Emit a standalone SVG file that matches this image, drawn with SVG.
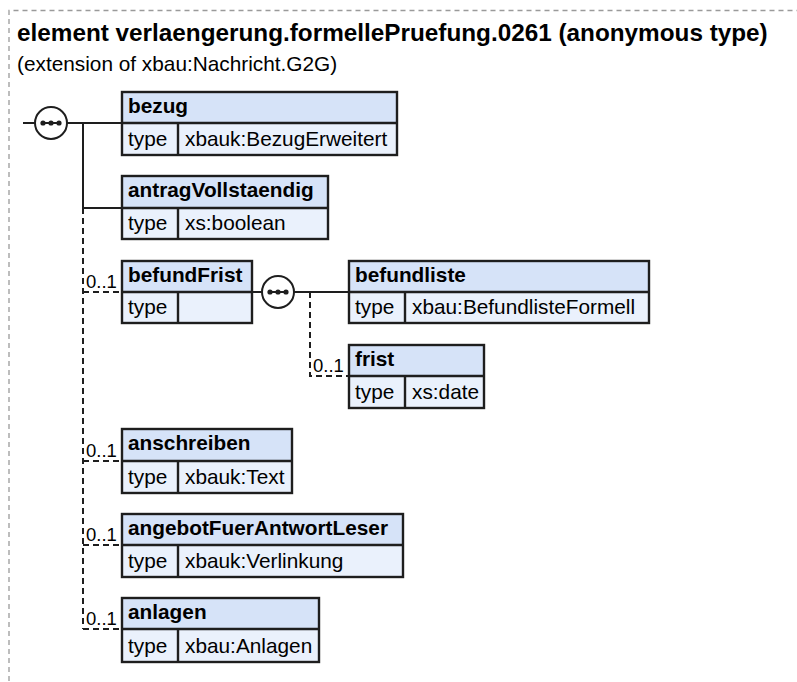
<svg xmlns="http://www.w3.org/2000/svg" width="797" height="682" viewBox="0 0 797 682">
<style>
.bg{fill:#ffffff}
.frame{fill:none;stroke:#9a9a9a;stroke-width:1.3;stroke-dasharray:5,4}
.title{font-family:"Liberation Sans",Arial,sans-serif;font-size:24.3px;font-weight:bold;fill:#000}
.sub{font-family:"Liberation Sans",Arial,sans-serif;font-size:20.8px;fill:#000}
.hd{fill:#d6e3f8;stroke:none}
.bd{fill:#eaf1fc;stroke:none}
.box{fill:none;stroke:#1e1e1e;stroke-width:2.4}
.ln{fill:none;stroke:#1e1e1e;stroke-width:2}
.name{font-family:"Liberation Sans",Arial,sans-serif;font-size:20.8px;font-weight:bold;fill:#000}
.txt{font-family:"Liberation Sans",Arial,sans-serif;font-size:20.8px;fill:#000}
.card{font-family:"Liberation Sans",Arial,sans-serif;font-size:18.5px;fill:#000}
.con{fill:none;stroke:#1e1e1e;stroke-width:2}
.dash{fill:none;stroke:#1e1e1e;stroke-width:2;stroke-dasharray:6,4}
.seq{fill:#ffffff;stroke:#1e1e1e;stroke-width:2}
.dot{fill:#1e1e1e}
</style>
<rect class="bg" x="0" y="0" width="797" height="682"/>
<path class="frame" d="M9,690 V10.5 H800"/>
<text class="title" x="17" y="41">element verlaengerung.formellePruefung.0261 (anonymous type)</text>
<text class="sub" x="17" y="71">(extension of xbau:Nachricht.G2G)</text>

<g id="connectors">
  <line class="con" x1="23" y1="123" x2="35" y2="123"/>
  <line class="con" x1="67" y1="123" x2="122" y2="123"/>
  <line class="con" x1="83" y1="123" x2="83" y2="208"/>
  <line class="con" x1="83" y1="208" x2="122" y2="208"/>
  <path class="dash" d="M83,208 V629"/>
  <path class="dash" d="M83,292 H122"/>
  <path class="dash" d="M83,461 H122"/>
  <path class="dash" d="M83,545 H122"/>
  <path class="dash" d="M83,629 H122"/>
  <line class="con" x1="252" y1="292" x2="262" y2="292"/>
  <line class="con" x1="294" y1="292" x2="349" y2="292"/>
  <path class="dash" d="M310,292 V376 H349"/>
  <text class="card" x="86" y="288">0..1</text>
  <text class="card" x="313" y="372">0..1</text>
  <text class="card" x="86" y="457">0..1</text>
  <text class="card" x="86" y="541">0..1</text>
  <text class="card" x="86" y="625">0..1</text>
</g>

<g id="seq1">
  <circle class="seq" cx="51" cy="123" r="16"/>
  <line class="ln" x1="43" y1="123" x2="59" y2="123"/>
  <circle class="dot" cx="43" cy="123" r="2.6"/>
  <circle class="dot" cx="51" cy="123" r="2.6"/>
  <circle class="dot" cx="59" cy="123" r="2.6"/>
</g>

<g id="seq2">
  <circle class="seq" cx="278" cy="292" r="16"/>
  <line class="ln" x1="270" y1="292" x2="286" y2="292"/>
  <circle class="dot" cx="270" cy="292" r="2.6"/>
  <circle class="dot" cx="278" cy="292" r="2.6"/>
  <circle class="dot" cx="286" cy="292" r="2.6"/>
</g>

<g id="bezug">
  <rect class="hd" x="122" y="92" width="275" height="31"/>
  <rect class="bd" x="122" y="123" width="275" height="32"/>
  <rect class="box" x="122" y="92" width="275" height="63"/>
  <line class="box" x1="122" y1="123" x2="397" y2="123"/>
  <line class="box" x1="178" y1="123" x2="178" y2="155"/>
  <text class="name" x="128" y="113">bezug</text>
  <text class="txt" x="128" y="146">type</text>
  <text class="txt" x="185" y="146">xbauk:BezugErweitert</text>
</g>

<g id="antragVollstaendig">
  <rect class="hd" x="122" y="176" width="206" height="32"/>
  <rect class="bd" x="122" y="208" width="206" height="31"/>
  <rect class="box" x="122" y="176" width="206" height="63"/>
  <line class="box" x1="122" y1="208" x2="328" y2="208"/>
  <line class="box" x1="178" y1="208" x2="178" y2="239"/>
  <text class="name" x="128" y="197">antragVollstaendig</text>
  <text class="txt" x="128" y="230">type</text>
  <text class="txt" x="185" y="230">xs:boolean</text>
</g>

<g id="befundFrist">
  <rect class="hd" x="122" y="261" width="130" height="31"/>
  <rect class="bd" x="122" y="292" width="130" height="31"/>
  <rect class="box" x="122" y="261" width="130" height="62"/>
  <line class="box" x1="122" y1="292" x2="252" y2="292"/>
  <line class="box" x1="178" y1="292" x2="178" y2="323"/>
  <text class="name" x="128" y="282">befundFrist</text>
  <text class="txt" x="128" y="314">type</text>
</g>

<g id="befundliste">
  <rect class="hd" x="349" y="261" width="300" height="31"/>
  <rect class="bd" x="349" y="292" width="300" height="31"/>
  <rect class="box" x="349" y="261" width="300" height="62"/>
  <line class="box" x1="349" y1="292" x2="649" y2="292"/>
  <line class="box" x1="405" y1="292" x2="405" y2="323"/>
  <text class="name" x="355" y="282">befundliste</text>
  <text class="txt" x="355" y="314">type</text>
  <text class="txt" x="412" y="314">xbau:BefundlisteFormell</text>
</g>

<g id="frist">
  <rect class="hd" x="349" y="345" width="135" height="31"/>
  <rect class="bd" x="349" y="376" width="135" height="32"/>
  <rect class="box" x="349" y="345" width="135" height="63"/>
  <line class="box" x1="349" y1="376" x2="484" y2="376"/>
  <line class="box" x1="405" y1="376" x2="405" y2="408"/>
  <text class="name" x="355" y="366">frist</text>
  <text class="txt" x="355" y="399">type</text>
  <text class="txt" x="412" y="399">xs:date</text>
</g>

<g id="anschreiben">
  <rect class="hd" x="122" y="429" width="170" height="32"/>
  <rect class="bd" x="122" y="461" width="170" height="32"/>
  <rect class="box" x="122" y="429" width="170" height="64"/>
  <line class="box" x1="122" y1="461" x2="292" y2="461"/>
  <line class="box" x1="178" y1="461" x2="178" y2="493"/>
  <text class="name" x="128" y="450">anschreiben</text>
  <text class="txt" x="128" y="484">type</text>
  <text class="txt" x="185" y="484">xbauk:Text</text>
</g>

<g id="angebotFuerAntwortLeser">
  <rect class="hd" x="122" y="514" width="281" height="31"/>
  <rect class="bd" x="122" y="545" width="281" height="32"/>
  <rect class="box" x="122" y="514" width="281" height="63"/>
  <line class="box" x1="122" y1="545" x2="403" y2="545"/>
  <line class="box" x1="178" y1="545" x2="178" y2="577"/>
  <text class="name" x="128" y="535">angebotFuerAntwortLeser</text>
  <text class="txt" x="128" y="568">type</text>
  <text class="txt" x="185" y="568">xbauk:Verlinkung</text>
</g>

<g id="anlagen">
  <rect class="hd" x="122" y="598" width="197" height="31"/>
  <rect class="bd" x="122" y="629" width="197" height="33"/>
  <rect class="box" x="122" y="598" width="197" height="64"/>
  <line class="box" x1="122" y1="629" x2="319" y2="629"/>
  <line class="box" x1="178" y1="629" x2="178" y2="662"/>
  <text class="name" x="128" y="619">anlagen</text>
  <text class="txt" x="128" y="653">type</text>
  <text class="txt" x="185" y="653">xbau:Anlagen</text>
</g>
</svg>
